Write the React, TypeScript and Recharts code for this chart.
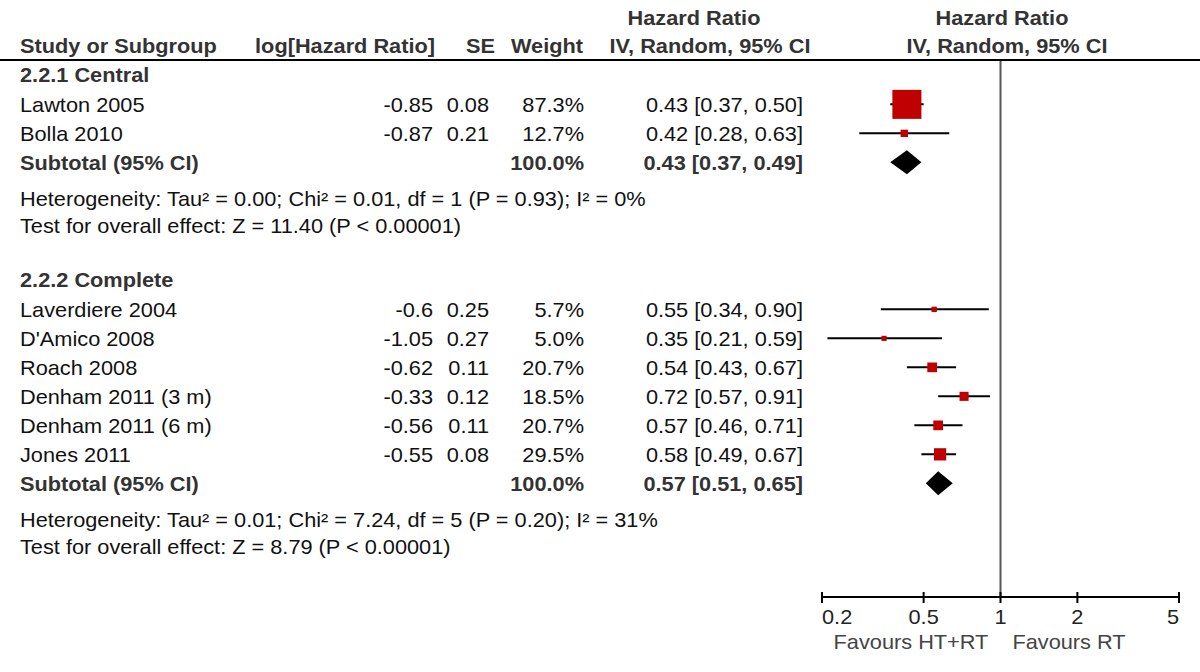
import { ScatterChart, Scatter, XAxis, YAxis, ErrorBar, ReferenceLine } from "recharts";

const groupNames = ["2.2.1 Central", "2.2.2 Complete"];
const studyNames = [
  "Lawton 2005",
  "Bolla 2010",
  "Laverdiere 2004",
  "D'Amico 2008",
  "Roach 2008",
  "Denham 2011 (3 m)",
  "Denham 2011 (6 m)",
  "Jones 2011",
];
const studyGroup = [0, 0, 1, 1, 1, 1, 1, 1];
const logHR = ["-0.85", "-0.87", "-0.6", "-1.05", "-0.62", "-0.33", "-0.56", "-0.55"];
const stdErr = ["0.08", "0.21", "0.25", "0.27", "0.11", "0.12", "0.11", "0.08"];
const weights = [87.3, 12.7, 5.7, 5.0, 20.7, 18.5, 20.7, 29.5];
const hr = [0.43, 0.42, 0.55, 0.35, 0.54, 0.72, 0.57, 0.58];
const ciLow = [0.37, 0.28, 0.34, 0.21, 0.43, 0.57, 0.46, 0.49];
const ciHigh = [0.5, 0.63, 0.9, 0.59, 0.67, 0.91, 0.71, 0.67];

const subtotalHR = [0.43, 0.57];
const subtotalLow = [0.37, 0.51];
const subtotalHigh = [0.49, 0.65];
const heterogeneity = [
  "Heterogeneity: Tau² = 0.00; Chi² = 0.01, df = 1 (P = 0.93); I² = 0%",
  "Heterogeneity: Tau² = 0.01; Chi² = 7.24, df = 5 (P = 0.20); I² = 31%",
];
const overallEffect = [
  "Test for overall effect: Z = 11.40 (P < 0.00001)",
  "Test for overall effect: Z = 8.79 (P < 0.00001)",
];

const axisTicks = [0.2, 0.5, 1, 2, 5];
const favours = ["Favours HT+RT", "Favours RT"];

const FONT = "'Liberation Sans', Arial, sans-serif";
const FS = 20;
const SX = 1.088; // the original lettering is a little wide
const RED = "#c00000";
const BOLD_COLOR = "#333";
const TEXT_COLOR = "#111";

// vertical spacing in "study line" units
const GAP = { first: 0.5, afterHeader: 1.03, afterSubtotal: 1.25, afterHet: 0.94, nextGroup: 1.85 };
const Y_MAX = 18.52;

type Row = { slot: number; kind: "group" | "study" | "subtotal" | "note"; idx: number; text?: string };

const rows: Row[] = [];
const studySlot: number[] = [];
const subtotalSlot: number[] = [];
let s = GAP.first;
groupNames.forEach((_, gi) => {
  rows.push({ slot: s, kind: "group", idx: gi });
  let first = true;
  studyNames.forEach((_, i) => {
    if (studyGroup[i] !== gi) return;
    s += first ? GAP.afterHeader : 1;
    first = false;
    rows.push({ slot: s, kind: "study", idx: i });
    studySlot[i] = s;
  });
  s += 1;
  rows.push({ slot: s, kind: "subtotal", idx: gi });
  subtotalSlot[gi] = s;
  s += GAP.afterSubtotal;
  rows.push({ slot: s, kind: "note", idx: gi, text: heterogeneity[gi] });
  s += GAP.afterHet;
  rows.push({ slot: s, kind: "note", idx: gi, text: overallEffect[gi] });
  s += GAP.nextGroup;
});

const studyData = studyNames.map((name, i) => ({
  name,
  x: hr[i],
  y: studySlot[i],
  weight: weights[i],
  err: [hr[i] - ciLow[i], ciHigh[i] - hr[i]],
}));

const fmtCI = (h: number, lo: number, hi: number) =>
  `${h.toFixed(2)} [${lo.toFixed(2)}, ${hi.toFixed(2)}]`;

// text columns (right edges, except first)
const COL = { name: 20, logHR: 433, se: 489, weight: 584, ci: 803 };

const T = ({ x, y, children, ...rest }: any) => (
  <text
    transform={`translate(${x},${y}) scale(${SX},1)`}
    dominantBaseline="central"
    fontFamily={FONT}
    fontSize={FS}
    {...rest}
  >
    {children}
  </text>
);

const RowTick = (props: any) => {
  const { y, payload } = props;
  const row = rows.find((r) => Math.abs(r.slot - payload.value) < 1e-6);
  if (!row) return null;
  if (row.kind === "group") {
    return (
      <T x={COL.name} y={y} fontWeight="bold" fill={BOLD_COLOR}>
        {groupNames[row.idx]}
      </T>
    );
  }
  if (row.kind === "note") {
    return (
      <T x={COL.name} y={y} fill={TEXT_COLOR}>
        {row.text}
      </T>
    );
  }
  if (row.kind === "subtotal") {
    const g = row.idx;
    return (
      <g fontWeight="bold" fill={BOLD_COLOR}>
        <T x={COL.name} y={y}>Subtotal (95% CI)</T>
        <T x={COL.weight} y={y} textAnchor="end">100.0%</T>
        <T x={COL.ci} y={y} textAnchor="end">
          {fmtCI(subtotalHR[g], subtotalLow[g], subtotalHigh[g])}
        </T>
      </g>
    );
  }
  const i = row.idx;
  return (
    <g fill={TEXT_COLOR}>
      <T x={COL.name} y={y}>{studyNames[i]}</T>
      <T x={COL.logHR} y={y} textAnchor="end">{logHR[i]}</T>
      <T x={COL.se} y={y} textAnchor="end">{stdErr[i]}</T>
      <T x={COL.weight} y={y} textAnchor="end">{weights[i].toFixed(1)}%</T>
      <T x={COL.ci} y={y} textAnchor="end">{fmtCI(hr[i], ciLow[i], ciHigh[i])}</T>
    </g>
  );
};

const AxisTick = (props: any) => {
  const { x, y, payload, index } = props;
  const anchor = index === 0 ? "start" : index === axisTicks.length - 1 ? "end" : "middle";
  return (
    <g>
      <line x1={x} x2={x} y1={y - 5} y2={y + 6} stroke="#000" strokeWidth={2} />
      <T x={x} y={y + 20} textAnchor={anchor} fill="#222">
        {payload.value}
      </T>
    </g>
  );
};

const StudySquare = (props: any) => {
  const { cx, cy, payload } = props;
  const size = 3.7 + 0.29 * payload.weight;
  return <rect x={cx - size / 2} y={cy - size / 2} width={size} height={size} fill={RED} />;
};

const Diamond = (props: any) => {
  const { x1, x2, y1, h, lo, hi } = props;
  const cx = x1 + ((x2 - x1) * Math.log(h / lo)) / Math.log(hi / lo);
  const half = 12;
  return (
    <polygon
      points={`${x1},${y1} ${cx},${y1 - half} ${x2},${y1} ${cx},${y1 + half}`}
      fill="#000"
    />
  );
};

export default function App() {
  return (
    <div style={{ position: "absolute", left: 0, top: 0, width: 1200, height: 672, background: "#fff" }}>
      <ScatterChart width={1200} height={672} margin={{ top: 60, right: 21, bottom: 15, left: 0 }}>
        <XAxis
          type="number"
          dataKey="x"
          scale="log"
          domain={[0.2, 5]}
          ticks={axisTicks}
          interval={0}
          allowDataOverflow
          height={60}
          tickSize={0}
          tickMargin={0}
          tickLine={false}
          axisLine={{ stroke: "#000", strokeWidth: 2 }}
          tick={<AxisTick />}
        />
        <YAxis
          type="number"
          dataKey="y"
          domain={[0, Y_MAX]}
          reversed
          ticks={rows.map((r) => r.slot)}
          interval={0}
          width={822}
          axisLine={false}
          tickLine={false}
          tick={<RowTick />}
        />
        <ReferenceLine x={1} stroke="#555" strokeWidth={2} />
        <Scatter data={studyData} shape={<StudySquare />} isAnimationActive={false}>
          <ErrorBar dataKey="err" direction="x" width={0} stroke="#000" strokeWidth={2} isAnimationActive={false} />
        </Scatter>
        {subtotalHR.map((h, g) => (
          <ReferenceLine
            key={groupNames[g]}
            segment={[
              { x: subtotalLow[g], y: subtotalSlot[g] },
              { x: subtotalHigh[g], y: subtotalSlot[g] },
            ]}
            shape={(p: any) => <Diamond {...p} h={h} lo={subtotalLow[g]} hi={subtotalHigh[g]} />}
          />
        ))}
      </ScatterChart>
      <svg
        width={1200}
        height={672}
        style={{ position: "absolute", left: 0, top: 0, pointerEvents: "none" }}
      >
        <line x1={0} x2={1200} y1={60} y2={60} stroke="#000" strokeWidth={2} />
        <g fontWeight="bold" fill={BOLD_COLOR}>
          <T x={20} y={46}>Study or Subgroup</T>
          <T x={435} y={46} textAnchor="end">log[Hazard Ratio]</T>
          <T x={495} y={46} textAnchor="end">SE</T>
          <T x={583} y={46} textAnchor="end">Weight</T>
          <T x={694} y={18} textAnchor="middle">Hazard Ratio</T>
          <T x={710} y={46} textAnchor="middle">IV, Random, 95% CI</T>
          <T x={1002} y={18} textAnchor="middle">Hazard Ratio</T>
          <T x={1007} y={46} textAnchor="middle">IV, Random, 95% CI</T>
        </g>
        <g fill="#444">
          <T x={911} y={642} textAnchor="middle">{favours[0]}</T>
          <T x={1069} y={642} textAnchor="middle">{favours[1]}</T>
        </g>
      </svg>
    </div>
  );
}
